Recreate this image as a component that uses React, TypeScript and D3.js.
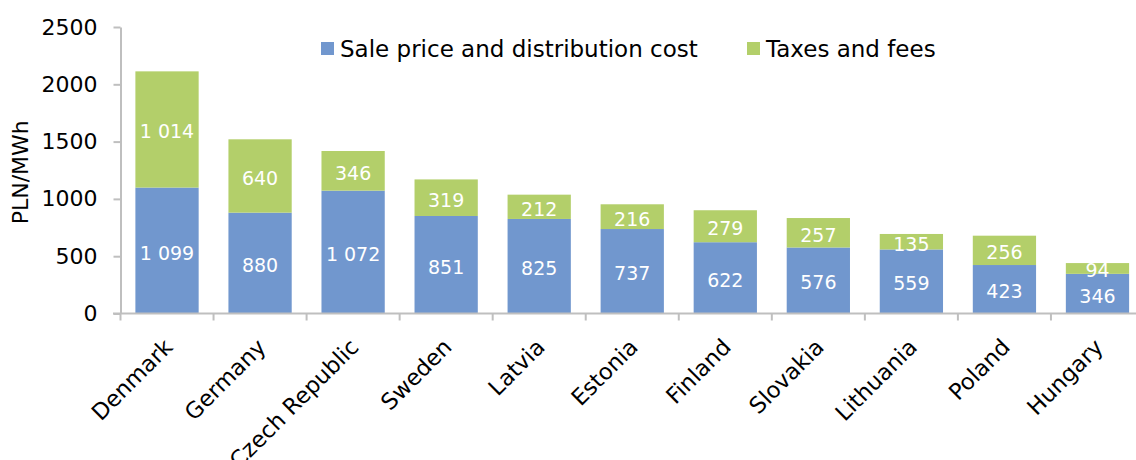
import { useEffect, useRef } from 'react';
import * as d3 from 'd3';

const categories = [
  'Denmark',
  'Germany',
  'Czech Republic',
  'Sweden',
  'Latvia',
  'Estonia',
  'Finland',
  'Slovakia',
  'Lithuania',
  'Poland',
  'Hungary',
];
const salePrice = [1099, 880, 1072, 851, 825, 737, 622, 576, 559, 423, 346];
const taxesFees = [1014, 640, 346, 319, 212, 216, 279, 257, 135, 256, 94];
const yTicks = [0, 500, 1000, 1500, 2000, 2500];
const seriesNames = ['Sale price and distribution cost', 'Taxes and fees'];
const seriesColors = ['#7197CE', '#B3CF6A'];

export default function App() {
  const svgRef = useRef<SVGSVGElement>(null);

  useEffect(() => {
    if (!svgRef.current) return;
    d3.select(svgRef.current).selectAll('*').remove();

    const width = 1136;
    const height = 460;
    const font = "Verdana, 'DejaVu Sans', sans-serif";
    const axisColor = '#BFBFBF';

    const svg = d3
      .select(svgRef.current)
      .attr('width', width)
      .attr('height', height)
      .style('font-family', font);

    const x = d3
      .scaleBand<string>()
      .domain(categories)
      .range([120.5, 1144])
      .paddingInner(0.32)
      .paddingOuter(0.16);

    const y = d3.scaleLinear().domain([0, 2500]).range([313.5, 27]);

    const fmt = d3
      .formatLocale({ decimal: ',', thousands: ' ', grouping: [3], currency: ['', ''] })
      .format(',d');

    // stacked data
    const rows = categories.map((c, i) => ({ c, sale: salePrice[i], tax: taxesFees[i] }));
    const stack = d3.stack<any>().keys(['sale', 'tax'])(rows);

    const layers = svg
      .selectAll('g.layer')
      .data(stack)
      .join('g')
      .attr('class', 'layer')
      .attr('fill', (_d, i) => seriesColors[i]);

    layers
      .selectAll('rect')
      .data((d) => d)
      .join('rect')
      .attr('x', (d: any) => x(d.data.c)!)
      .attr('width', x.bandwidth())
      .attr('y', (d) => y(d[1]))
      .attr('height', (d) => y(d[0]) - y(d[1]));

    // value labels
    layers
      .selectAll('text')
      .data((d) => d)
      .join('text')
      .attr('x', (d: any) => x(d.data.c)! + x.bandwidth() / 2)
      .attr('y', (d) => (y(d[0]) + y(d[1])) / 2 + 2)
      .attr('text-anchor', 'middle')
      .attr('dominant-baseline', 'central')
      .attr('fill', 'white')
      .attr('font-size', '19px')
      .text((d) => fmt(d[1] - d[0]));

    // y axis
    const yAxis = svg
      .append('g')
      .attr('transform', 'translate(120.5,0)')
      .call(d3.axisLeft(y).tickValues(yTicks).tickSize(7).tickSizeOuter(0).tickPadding(16).tickFormat(d3.format('d')));
    yAxis.select('.domain').attr('stroke', axisColor).attr('stroke-width', 2);
    yAxis.selectAll('.tick line').attr('stroke', axisColor).attr('stroke-width', 2);
    yAxis
      .selectAll('.tick text')
      .attr('font-size', '22px')
      .attr('font-family', font)
      .attr('fill', '#000');

    // x axis
    const step = x.step();
    const edges = categories.map((c) => x(c)! - (step * x.paddingInner()) / 2);
    edges.push(edges[edges.length - 1] + step);
    svg
      .append('line')
      .attr('x1', 113)
      .attr('x2', width)
      .attr('y1', y(0))
      .attr('y2', y(0))
      .attr('stroke', axisColor)
      .attr('stroke-width', 2);
    svg
      .selectAll('line.xtick')
      .data(edges)
      .join('line')
      .attr('class', 'xtick')
      .attr('x1', (d) => d)
      .attr('x2', (d) => d)
      .attr('y1', y(0))
      .attr('y2', y(0) + 7)
      .attr('stroke', axisColor)
      .attr('stroke-width', 2);

    svg
      .selectAll('text.xlabel')
      .data(categories)
      .join('text')
      .attr('class', 'xlabel')
      .attr('text-anchor', 'end')
      .attr('font-size', '22.5px')
      .attr('transform', (d) => `translate(${x(d)! + x.bandwidth() / 2 + 7},${y(0) + 35}) rotate(-45)`)
      .text((d) => d);

    // y title
    svg
      .append('text')
      .attr('transform', `translate(28,${y(1250) + 2}) rotate(-90)`)
      .attr('text-anchor', 'middle')
      .attr('font-size', '22px')
      .text('PLN/MWh');

    // legend
    const legendX = [321, 747];
    const legend = svg
      .selectAll('g.legend')
      .data(seriesNames)
      .join('g')
      .attr('class', 'legend')
      .attr('transform', (_d, i) => `translate(${legendX[i]},42)`);
    legend
      .append('rect')
      .attr('width', 13)
      .attr('height', 13)
      .attr('fill', (_d, i) => seriesColors[i]);
    legend
      .append('text')
      .attr('x', 19)
      .attr('y', 15)
      .attr('font-size', '23px')
      .text((d) => d);
  }, []);

  return <svg ref={svgRef} style={{ position: 'absolute', left: 0, top: 0 }}></svg>;
}
